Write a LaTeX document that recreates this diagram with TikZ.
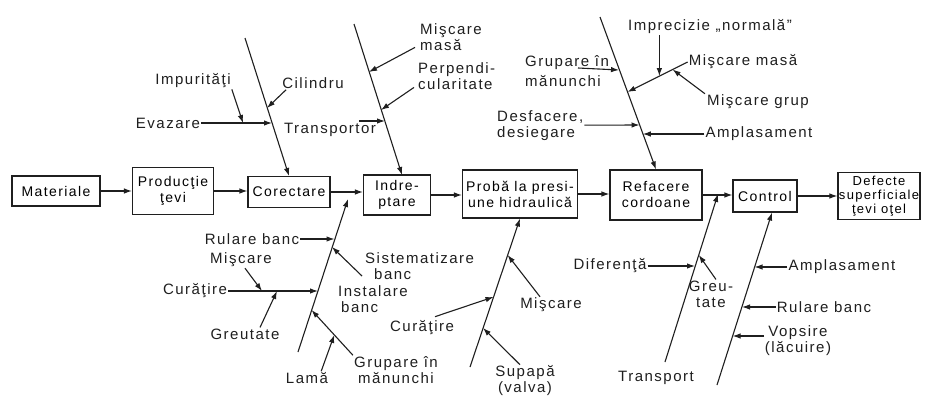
\documentclass[tikz,border=0pt]{standalone}
\usepackage{fontspec}
\setmainfont{Liberation Sans}[LetterSpace=10]
\usetikzlibrary{arrows.meta,calc}

\begin{document}
\begin{tikzpicture}[x=1pt,y=-1pt,
  ink/.style={draw=black!88, line width=1.1pt},
  box/.style={ink, inner sep=1pt, align=center, font=\fontsize{14}{16}\selectfont},
  lbl/.style={inner sep=1pt, font=\fontsize{15}{16}\selectfont, text=black!88},
  arr/.style={ink, -{Latex[length=8pt,width=5.5pt]}},
]
\path[use as bounding box, fill=white] (0,0) rectangle (926,396);

% ---- process chain ----
\node[box, minimum width=88, minimum height=30] (mat)   at (56,191)  {Materiale};
\node[box, minimum width=81, minimum height=47] (prod)  at (173,191) {Producţie\\ţevi};
\node[box, minimum width=82, minimum height=31] (cor)   at (289,192) {Corectare};
\node[box, minimum width=67, minimum height=40] (ind)   at (397,195) {Indre-\\ptare};
\node[box, minimum width=115, minimum height=48] (proba) at (520,194) {Probă la presi-\\une hidraulică};
\node[box, minimum width=92, minimum height=50] (ref)   at (656,195) {Refacere\\cordoane};
\node[box, minimum width=64, minimum height=32] (ctrl)  at (765,196) {Control};
\node[box, minimum width=82, minimum height=47, font=\fontsize{13}{14}\selectfont] (def) at (879,196) {Defecte\\superficiale\\ţevi oţel};

\draw[arr] (mat.east)   -- (mat.east -| prod.west);
\draw[arr] (prod.east)  -- (prod.east -| cor.west);
\draw[arr] (cor.east)   -- (cor.east -| ind.west);
\draw[arr] (ind.east)   -- (ind.east -| proba.west);
\draw[arr] (proba.east) -- (proba.east -| ref.west);
\draw[arr] (ref.east)   -- (ref.east -| ctrl.west);
\draw[arr] (ctrl.east)  -- (ctrl.east -| def.west);

% ---- bone ends and tips ----
\coordinate (b1top) at (245,38);
\coordinate (b1cil) at (267,108);
\coordinate (b1ev)  at (272,123);
\coordinate (evimp) at (243,123);

\coordinate (b2top) at (354,24);
\coordinate (b2end) at (402,175);
\coordinate (b2mm)  at (369,72);
\coordinate (b2pp)  at (381,110);
\coordinate (b2tr)  at (385,121);
\coordinate (trs)   at (359,121);

\coordinate (b3top) at (600,17);
\coordinate (b3gr)  at (619,70);
\coordinate (b3mm)  at (627.5,92);
\coordinate (b3ds)  at (639.5,125);
\coordinate (b3am)  at (642.8,134);
\coordinate (grs)   at (578,68);

\coordinate (b4bot) at (298,352);
\coordinate (b4top) at (348,199);
\coordinate (b4rb)  at (334.5,239);
\coordinate (b4si)  at (332,247);
\coordinate (b4cu)  at (318,291);
\coordinate (b4gr)  at (311.5,310);
\coordinate (sia)   at (362,276);
\coordinate (cumis) at (262,291);
\coordinate (cugre) at (277,291);

\coordinate (b5bot) at (470,367);
\coordinate (b5mi)  at (507.6,255);
\coordinate (b5cu)  at (493.5,297);
\coordinate (b5su)  at (483,328);

\coordinate (b6bot) at (665,362);
\coordinate (b6top) at (718,194);
\coordinate (b6di)  at (695,266);
\coordinate (b6gr)  at (698.8,255);

\coordinate (b7bot) at (717,385);
\coordinate (b7am)  at (754.5,267);
\coordinate (b7rb)  at (742,307);
\coordinate (b7vo)  at (732.6,336);
\coordinate (vos)   at (764,336);

% ---- labels ----
\node[lbl] (impur) at (193,81)  {Impurităţi};
\node[lbl] (evaz)  at (168,123) {Evazare};
\node[lbl] (cil)   at (313,83)  {Cilindru};
\node[lbl] (transp) at (330,130) {Transportor};
\node[lbl, align=left, anchor=north west] (mm1)  at (419,22) {Mişcare\\masă};
\node[lbl, align=left, anchor=north west] (perp) at (417,61) {Perpendi-\\cularitate};
\node[lbl, align=left, anchor=north west] (grup1) at (524,54) {Grupare în\\[4pt]mănunchi};
\node[lbl, align=left, anchor=north west] (desf) at (496,109) {Desfacere,\\desiegare};
\node[lbl] (impr)  at (710,27)  {Imprecizie „normală”};
\node[lbl] (mm2)   at (743,62)  {Mişcare masă};
\node[lbl] (mg)    at (758,102) {Mişcare grup};
\node[lbl] (ampl1) at (759,134) {Amplasament};

\node[lbl] (rb1)   at (252,239) {Rulare banc};
\node[lbl] (mis1)  at (241,260) {Mişcare};
\node[lbl] (cur1)  at (195,291) {Curăţire};
\node[lbl] (greu1) at (245,334) {Greutate};
\node[lbl, align=left, anchor=north west] (sist) at (364,251) {Sistematizare\\\hspace*{9pt}banc};
\node[lbl, align=left, anchor=north west] (inst) at (337,284) {Instalare\\\hspace*{3pt}banc};
\node[lbl, align=center] (grl) at (396,370) {Grupare în\\mănunchi};
\node[lbl] (lama)  at (307,378) {Lamă};

\node[lbl] (mis2)  at (551,305) {Mişcare};
\node[lbl] (cur2)  at (422,328) {Curăţire};
\node[lbl, align=center] (sup) at (525,381) {Supapă\\(valva)};

\node[lbl] (dif)   at (610,266) {Diferenţă};
\node[lbl, align=center] (greu2) at (711,294) {Greu-\\tate};
\node[lbl] (transp2) at (656,378) {Transport};

\node[lbl] (ampl2) at (842,267) {Amplasament};
\node[lbl] (rb2)   at (824,307) {Rulare banc};
\node[lbl, align=center] (vop) at (798,341) {Vopsire\\(lăcuire)};

% ---- bones ----
\draw[arr] (b1top) -- (cor.north);
\draw[arr] (b2top) -- (b2end);
\draw[arr] (b3top) -- (ref.north);
\draw[arr] (b4bot) -- (b4top);
\draw[arr] (b5bot) -- (proba.south);
\draw[arr] (b6bot) -- (b6top);
\draw[arr] (b7bot) -- ([xshift=7pt]ctrl.south);

% ---- branches: Corectare ----
\draw[arr] (evaz.east) -- (b1ev);
\draw[arr] (impur.south east) -- (evimp);
\draw[arr] ([xshift=5pt]cil.south west) -- (b1cil);

% ---- branches: Indreptare ----
\draw[arr] ([shift={(-4pt,4pt)}]mm1.south west) -- (b2mm);
\draw[arr] ([shift={(-3pt,3pt)}]perp.south west) -- (b2pp);
\draw[arr] (trs) -- (b2tr);

% ---- branches: Refacere cordoane ----
\draw[arr] (grs) -- (b3gr);
\draw[arr] (desf.east) -- (b3ds);
\draw[arr] (mm2.west) -- (b3mm);
\coordinate (b3imp) at ($(mm2.west)!0.47!(b3mm)$);
\coordinate (b3mg)  at ($(mm2.west)!0.25!(b3mm)$);
\draw[arr] (impr.south -| b3imp) -- (b3imp);
\draw[arr] ([xshift=-1pt]mg.north west) -- (b3mg);
\draw[arr] (ampl1.west) -- (b3am);

% ---- branches: lower left ----
\draw[arr] (rb1.east) -- (b4rb);
\draw[arr] (sia) -- (b4si);
\draw[arr] (cur1.east) -- (b4cu);
\draw[arr] ([xshift=4pt]mis1.south) -- (cumis);
\draw[arr] ([xshift=15pt]greu1.north) -- (cugre);
\draw[arr] (grl.north west) -- (b4gr);
\coordinate (grlam) at ($(grl.north west)!0.45!(b4gr)$);
\draw[arr] ([xshift=-8pt]lama.north east) -- (grlam);

% ---- branches: Proba ----
\draw[arr] ([xshift=-11pt]mis2.north) -- (b5mi);
\draw[arr] ([shift={(13pt,3pt)}]cur2.north) -- (b5cu);
\draw[arr] ([xshift=-5pt]sup.north) -- (b5su);

% ---- branches: transport ----
\draw[arr] (dif.east) -- (b6di);
\draw[arr] ([xshift=5pt]greu2.north) -- (b6gr);

% ---- branches: Control ----
\draw[arr] (ampl2.west) -- (b7am);
\draw[arr] (rb2.west) -- (b7rb);
\draw[arr] (vos) -- (b7vo);
\end{tikzpicture}
\end{document}
